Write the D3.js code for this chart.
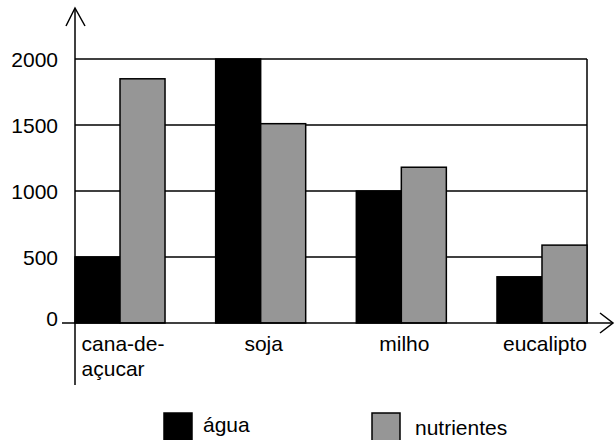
<!DOCTYPE html>
<html>
<head>
<meta charset="utf-8">
<script src="https://cdn.jsdelivr.net/npm/d3@7"></script>
<style>
  body { margin: 0; background: #fff; }
  svg text { font-family: "Liberation Sans", Arial, sans-serif; font-size: 21px; fill: #000; }
</style>
</head>
<body>
<div id="chart"></div>
<script>
// data
const categories = [["cana-de-", "açucar"], ["soja"], ["milho"], ["eucalipto"]];
const seriesNames = ["água", "nutrientes"];
const agua = [500, 2000, 1000, 350];
const nutrientes = [1850, 1510, 1180, 590];
const yTicks = [0, 500, 1000, 1500, 2000];

const W = 615, H = 440;
const plotLeft = 75, plotRight = 587, plotTop = 59, plotBottom = 323;
const colors = ["#000000", "#969696"];

const svg = d3.select("#chart")
    .append("svg")
    .attr("width", W)
    .attr("height", H);

const x = d3.scaleBand()
    .domain(d3.range(categories.length))
    .range([plotLeft, plotRight])
    .paddingInner(0.36)
    .paddingOuter(0);

const xs = d3.scaleBand()
    .domain(seriesNames)
    .range([0, x.bandwidth()]);

const y = d3.scaleLinear()
    .domain([0, 2000])
    .range([plotBottom, plotTop]);

// horizontal grid lines
svg.append("g")
    .selectAll("line")
    .data(yTicks.filter(d => d > 0))
    .join("line")
    .attr("x1", plotLeft)
    .attr("x2", plotRight)
    .attr("y1", d => y(d))
    .attr("y2", d => y(d))
    .attr("stroke", "#000")
    .attr("stroke-width", 1.5);

// right border of plot
svg.append("line")
    .attr("x1", plotRight).attr("x2", plotRight)
    .attr("y1", y(2000)).attr("y2", y(0))
    .attr("stroke", "#000")
    .attr("stroke-width", 1.5);

// bars
const series = [agua, nutrientes];
const groups = svg.append("g")
    .selectAll("g")
    .data(categories.map((c, i) => i))
    .join("g")
    .attr("transform", i => "translate(" + x(i) + ",0)");

groups.selectAll("rect")
    .data(i => seriesNames.map((s, k) => ({ s: s, k: k, v: series[k][i] })))
    .join("rect")
    .attr("x", d => xs(d.s))
    .attr("y", d => y(d.v))
    .attr("width", xs.bandwidth())
    .attr("height", d => y(0) - y(d.v))
    .attr("fill", d => colors[d.k])
    .attr("stroke", "#000")
    .attr("stroke-width", 1.5);

// y tick labels
svg.append("g")
    .selectAll("text")
    .data(yTicks)
    .join("text")
    .attr("x", 58)
    .attr("y", d => y(d) + (d === 0 ? 3 : 8))
    .attr("text-anchor", "end")
    .text(d => d);

// x axis with tick to the left and arrow
svg.append("line")
    .attr("x1", 62).attr("x2", 613)
    .attr("y1", y(0)).attr("y2", y(0))
    .attr("stroke", "#000")
    .attr("stroke-width", 1.5);
svg.append("path")
    .attr("d", "M600," + (y(0) - 10) + "L613," + y(0) + "L600," + (y(0) + 10))
    .attr("fill", "none")
    .attr("stroke", "#000")
    .attr("stroke-width", 1.5);

// y axis with arrow
svg.append("line")
    .attr("x1", plotLeft).attr("x2", plotLeft)
    .attr("y1", 9).attr("y2", 385)
    .attr("stroke", "#000")
    .attr("stroke-width", 1.5);
svg.append("path")
    .attr("d", "M66,26L" + plotLeft + ",8L85,26")
    .attr("fill", "none")
    .attr("stroke", "#000")
    .attr("stroke-width", 1.5);

// category labels (lines left aligned, block centred under its bars)
const catLabels = svg.append("g")
    .selectAll("text")
    .data(categories)
    .join("text")
    .attr("y", 351);
catLabels.selectAll("tspan")
    .data((d, i) => d.map(t => ({ t: t, i: i })))
    .join("tspan")
    .attr("dy", (d, j) => j === 0 ? 0 : 25)
    .text(d => d.t);
catLabels.each(function (d, i) {
    const spans = d3.select(this).selectAll("tspan");
    let w = 0;
    spans.each(function () { w = Math.max(w, this.getComputedTextLength()); });
    spans.attr("x", x(i) + x.bandwidth() / 2 + 3 - w / 2);
});

// legend
const legendX = [164, 372];
const legendText = [432, 435];
const legend = svg.append("g")
    .selectAll("g")
    .data(seriesNames)
    .join("g");
legend.append("rect")
    .attr("x", (d, i) => legendX[i])
    .attr("y", 413)
    .attr("width", 28)
    .attr("height", 30)
    .attr("fill", (d, i) => colors[i])
    .attr("stroke", "#000")
    .attr("stroke-width", 1.5);
legend.append("text")
    .attr("x", (d, i) => legendX[i] + 39 + i * 4)
    .attr("y", (d, i) => legendText[i])
    .text(d => d);
</script>
</body>
</html>
